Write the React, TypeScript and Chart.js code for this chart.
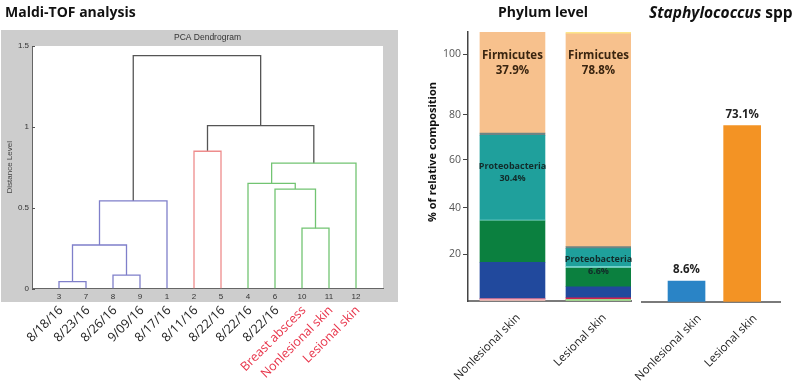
import React, { useEffect, useRef } from 'react';
import { Chart, registerables } from 'chart.js';

Chart.register(...registerables);

const FONT = '"Open Sans", "Noto Sans", sans-serif';
const MATLAB_FONT = '"Liberation Sans", Arial, sans-serif';

// ---------- Maldi-TOF dendrogram data ----------
const leafIds = ['3', '7', '8', '9', '1', '2', '5', '4', '6', '10', '11', '12'];
const leafNames = ['8/18/16', '8/23/16', '8/26/16', '9/09/16', '8/17/16', '8/11/16', '8/22/16', '8/22/16', '8/22/16', 'Breast abscess', 'Nonlesional skin', 'Lesional skin'];
const leafIsSample = [false, false, false, false, false, false, false, false, false, true, true, true];
// merges: nodes 0-11 are leaves (display order), node 12+k is merge k
const mergeLeft = [0, 2, 12, 14, 5, 9, 8, 7, 19, 16, 15];
const mergeRight = [1, 3, 13, 4, 6, 10, 17, 18, 11, 20, 21];
const mergeHeight = [0.042, 0.083, 0.269, 0.542, 0.849, 0.373, 0.615, 0.65, 0.775, 1.008, 1.441];
const mergeCluster = ['blue', 'blue', 'blue', 'blue', 'red', 'green', 'green', 'green', 'green', 'black', 'black'];
const dendroYTicks = [0, 0.5, 1, 1.5];
const dendroYLabels = ['0', '0.5', '1', '1.5'];

const clusterColors: Record<string, string> = {
  blue: '#7f7fca',
  red: '#ee8c8c',
  green: '#72c472',
  black: '#555555',
};

// ---------- Phylum level data (stack order bottom -> top) ----------
const phylumCategories = ['Nonlesional skin', 'Lesional skin'];
const phylumPositions = [1, 2];
const minorLightGreen = [0, 0.7];
const minorPink = [0.9, 0];
const minorRed = [0, 0.7];
const blueTaxon = [15.7, 4.7];
const greenTaxon = [17.7, 8.0];
const cyanTaxon = [0.4, 0.6];
const proteobacteria = [36.3, 7.7];
const grayTaxon = [0.9, 0.9];
const firmicutes = [43.4, 91.1];
const yellowTaxon = [0, 0.9];
const phylumYTickValues = [20, 40, 60.5, 79.7, 105.7];
const phylumYTickLabels = ['20', '40', '60', '80', '100'];
const barLabelBar = [0, 0, 1, 1];
const barLabelLines = [['Firmicutes', '37.9%'], ['Proteobacteria', '30.4%'], ['Firmicutes', '78.8%'], ['Proteobacteria', '6.6%']];
const barLabelValue = [101.7, 55.0, 101.7, 15.2];

// ---------- Staphylococcus data ----------
const staphCategories = ['Nonlesional skin', 'Lesional skin'];
const staphPositions = [1, 2];
const staphValues = [8.6, 73.1];
const staphLabels = ['8.6%', '73.1%'];

function dendroDatasets() {
  const nx: number[] = leafIds.map((_, i) => i + 1);
  const ny: number[] = leafIds.map(() => 0);
  const sets: any[] = [];
  for (let k = 0; k < mergeHeight.length; k++) {
    const a = mergeLeft[k];
    const b = mergeRight[k];
    const h = mergeHeight[k];
    sets.push({
      label: 'link ' + (k + 1),
      data: [
        { x: nx[a], y: ny[a] },
        { x: nx[a], y: h },
        { x: nx[b], y: h },
        { x: nx[b], y: ny[b] },
      ],
      showLine: true,
      borderColor: clusterColors[mergeCluster[k]],
      backgroundColor: clusterColors[mergeCluster[k]],
      borderWidth: 1.3,
      pointRadius: 0,
      tension: 0,
      fill: false,
    });
    nx.push((nx[a] + nx[b]) / 2);
    ny.push(h);
  }
  return sets;
}

const noSidePadding = (s: any) => {
  s.paddingLeft = 0;
  s.paddingRight = 0;
};

const dendroFrame = {
  id: 'dendroFrame',
  beforeDraw(chart: any) {
    const { ctx, chartArea, scales } = chart;
    ctx.save();
    ctx.fillStyle = '#cdcdcd';
    ctx.fillRect(1, 30, 397, scales.x.bottom - 30);
    ctx.fillStyle = '#ffffff';
    ctx.fillRect(chartArea.left, chartArea.top, chartArea.right - chartArea.left, chartArea.bottom - chartArea.top);
    ctx.fillStyle = '#333';
    ctx.font = '8.5px ' + MATLAB_FONT;
    ctx.textAlign = 'center';
    ctx.textBaseline = 'middle';
    ctx.fillText('PCA Dendrogram', (chartArea.left + chartArea.right) / 2, chartArea.top - 8);
    ctx.restore();
  },
  afterDraw(chart: any) {
    const { ctx, chartArea, scales } = chart;
    ctx.save();
    ctx.strokeStyle = '#555';
    ctx.lineWidth = 1;
    scales.y.ticks.forEach((t: any) => {
      const py = Math.round(scales.y.getPixelForValue(t.value)) + 0.5;
      ctx.beginPath();
      ctx.moveTo(chartArea.left, py);
      ctx.lineTo(chartArea.left + 3, py);
      ctx.stroke();
    });
    ctx.restore();
  },
};

const phylumDecor = {
  id: 'phylumDecor',
  afterDraw(chart: any) {
    const { ctx, scales } = chart;
    ctx.save();
    ctx.textAlign = 'center';
    ctx.textBaseline = 'middle';
    for (let i = 0; i < barLabelLines.length; i++) {
      const px = scales.x.getPixelForValue(phylumPositions[barLabelBar[i]]);
      const py = scales.y.getPixelForValue(barLabelValue[i]);
      const big = barLabelLines[i][0] === 'Firmicutes';
      const size = big ? 11.5 : 9;
      const gap = big ? 15 : 12;
      ctx.font = 'bold ' + size + 'px ' + FONT;
      ctx.fillStyle = big ? '#3a2510' : '#122b2a';
      ctx.fillText(barLabelLines[i][0], px, py - gap / 2);
      ctx.fillText(barLabelLines[i][1], px, py + gap / 2);
    }
    ctx.translate(33, 152);
    ctx.rotate(-Math.PI / 2);
    ctx.font = 'bold 11px ' + FONT;
    ctx.fillStyle = '#111';
    ctx.fillText('% of relative composition', 0, 0);
    ctx.restore();
  },
};

const staphDecor = {
  id: 'staphDecor',
  afterDatasetsDraw(chart: any) {
    const { ctx } = chart;
    const meta = chart.getDatasetMeta(0);
    ctx.save();
    ctx.textAlign = 'center';
    ctx.textBaseline = 'middle';
    ctx.font = 'bold 11.5px ' + FONT;
    ctx.fillStyle = '#222';
    meta.data.forEach((el: any, i: number) => {
      ctx.fillText(staphLabels[i], el.x, el.y - 11);
    });
    ctx.restore();
  },
};

export default function App() {
  const dRef = useRef<HTMLCanvasElement>(null);
  const pRef = useRef<HTMLCanvasElement>(null);
  const sRef = useRef<HTMLCanvasElement>(null);

  useEffect(() => {
    const charts: Chart[] = [];

    charts.push(
      new Chart(dRef.current as HTMLCanvasElement, {
        type: 'scatter',
        data: { datasets: dendroDatasets() },
        options: {
          animation: false,
          responsive: false,
          devicePixelRatio: 1,
          layout: { padding: { left: 0, top: 46, right: 17, bottom: 0 } },
          plugins: { legend: { display: false }, tooltip: { enabled: false } },
          scales: {
            x: {
              type: 'linear',
              min: 0,
              max: 13,
              weight: 0,
              afterBuildTicks: (s: any) => {
                s.ticks = leafIds.map((_, i) => ({ value: i + 1 }));
              },
              afterFit: (s: any) => {
                s.height = 13.5;
                noSidePadding(s);
              },
              ticks: {
                autoSkip: false,
                maxRotation: 0,
                padding: 3,
                font: { size: 8, family: MATLAB_FONT },
                color: '#333',
                callback: (_v: any, i: number) => leafIds[i],
              },
              grid: { drawOnChartArea: false, drawTicks: false },
              border: { color: '#666', width: 1 },
            },
            x2: {
              type: 'linear',
              position: 'bottom',
              min: 0,
              max: 13,
              weight: 1,
              afterBuildTicks: (s: any) => {
                s.ticks = leafNames.map((_, i) => ({ value: i + 1 }));
              },
              afterFit: (s: any) => {
                s.height = 87;
                noSidePadding(s);
              },
              ticks: {
                autoSkip: false,
                minRotation: 45,
                maxRotation: 45,
                padding: -7,
                labelOffset: 2,
                font: { size: 12.5, family: FONT },
                color: (c: any) => (leafIsSample[c.index] ? '#e8344a' : '#222'),
                callback: (_v: any, i: number) => leafNames[i],
              },
              grid: { display: false },
              border: { display: false },
            },
            y: {
              type: 'linear',
              min: 0,
              max: 1.5,
              afterBuildTicks: (s: any) => {
                s.ticks = dendroYTicks.map((v) => ({ value: v }));
              },
              afterFit: (s: any) => {
                s.width = 32;
              },
              ticks: {
                padding: 3,
                font: { size: 8, family: MATLAB_FONT },
                color: '#333',
                callback: (_v: any, i: number) => dendroYLabels[i],
              },
              title: {
                display: true,
                text: 'Distance Level',
                font: { size: 8, family: MATLAB_FONT },
                color: '#444',
                padding: { top: 5, bottom: 0 },
              },
              grid: { drawOnChartArea: false, drawTicks: false },
              border: { color: '#666', width: 1 },
            },
          },
        },
        plugins: [dendroFrame],
      } as any)
    );

    const phylumSets = [
      { label: 'Minor (light green)', data: minorLightGreen, backgroundColor: '#9fd28e' },
      { label: 'Minor (pink)', data: minorPink, backgroundColor: '#f3a8b6' },
      { label: 'Minor (red)', data: minorRed, backgroundColor: '#d2234f' },
      { label: 'Blue taxon', data: blueTaxon, backgroundColor: '#21499d' },
      { label: 'Green taxon', data: greenTaxon, backgroundColor: '#0b803f' },
      { label: 'Cyan taxon', data: cyanTaxon, backgroundColor: '#8ee0dc' },
      { label: 'Proteobacteria', data: proteobacteria, backgroundColor: '#1fa09c' },
      { label: 'Gray taxon', data: grayTaxon, backgroundColor: '#6e8484' },
      { label: 'Firmicutes', data: firmicutes, backgroundColor: '#f7c18d' },
      { label: 'Yellow taxon', data: yellowTaxon, backgroundColor: '#fde68a' },
    ].map((d) => ({
      label: d.label,
      data: d.data.map((v, i) => ({ x: phylumPositions[i], y: v })),
      backgroundColor: d.backgroundColor,
      borderWidth: 0,
      barThickness: 65,
    }));

    charts.push(
      new Chart(pRef.current as HTMLCanvasElement, {
        type: 'bar',
        data: { datasets: phylumSets },
        options: {
          animation: false,
          responsive: false,
          devicePixelRatio: 1,
          layout: { padding: { left: 0, top: 32, right: 9, bottom: 0 } },
          plugins: { legend: { display: false }, tooltip: { enabled: false } },
          scales: {
            x: {
              type: 'linear',
              stacked: true,
              offset: false,
              min: 0.483,
              max: 2.378,
              afterBuildTicks: (s: any) => {
                s.ticks = phylumPositions.map((v) => ({ value: v }));
              },
              afterFit: (s: any) => {
                s.height = 88;
                noSidePadding(s);
              },
              ticks: {
                autoSkip: false,
                minRotation: 45,
                maxRotation: 45,
                padding: 2,
                labelOffset: 6,
                font: { size: 11.5, family: FONT },
                color: '#222',
                callback: (_v: any, i: number) => phylumCategories[i],
              },
              grid: { display: false, offset: false },
              border: { color: '#7a7a7a', width: 2 },
            },
            y: {
              type: 'linear',
              stacked: true,
              min: 0,
              max: 115.2,
              afterBuildTicks: (s: any) => {
                s.ticks = phylumYTickValues.map((v) => ({ value: v }));
              },
              afterFit: (s: any) => {
                s.width = 68;
              },
              ticks: {
                padding: 2,
                font: { size: 10.5, family: FONT },
                color: '#555',
                callback: (_v: any, i: number) => phylumYTickLabels[i],
              },
              grid: { drawOnChartArea: false, tickLength: 5, color: '#444' },
              border: { color: '#444', width: 1.5 },
            },
          },
        },
        plugins: [phylumDecor],
      } as any)
    );

    charts.push(
      new Chart(sRef.current as HTMLCanvasElement, {
        type: 'bar',
        data: {
          datasets: [
            {
              label: 'Staphylococcus spp',
              data: staphValues.map((v, i) => ({ x: staphPositions[i], y: v })),
              backgroundColor: ['#2a84c6', '#f39324'],
              borderWidth: 0,
              barThickness: 37,
            },
          ],
        },
        options: {
          animation: false,
          responsive: false,
          devicePixelRatio: 1,
          layout: { padding: { left: 82, top: 32, right: 19, bottom: 0 } },
          plugins: { legend: { display: false }, tooltip: { enabled: false } },
          scales: {
            x: {
              type: 'linear',
              offset: false,
              min: 0.2,
              max: 2.68,
              afterBuildTicks: (s: any) => {
                s.ticks = staphPositions.map((v) => ({ value: v }));
              },
              afterFit: (s: any) => {
                s.height = 87.3;
                noSidePadding(s);
              },
              ticks: {
                autoSkip: false,
                minRotation: 45,
                maxRotation: 45,
                padding: 2,
                labelOffset: 13,
                font: { size: 11.5, family: FONT },
                color: '#222',
                callback: (_v: any, i: number) => staphCategories[i],
              },
              grid: { display: false, offset: false },
              border: { color: '#7a7a7a', width: 2 },
            },
            y: { display: false, min: 0, max: 112 },
          },
        },
        plugins: [staphDecor],
      } as any)
    );

    return () => charts.forEach((c) => c.destroy());
  }, []);

  const heading: React.CSSProperties = {
    position: 'absolute',
    top: 3,
    fontFamily: FONT,
    fontWeight: 700,
    fontSize: 14,
    lineHeight: '18px',
    color: '#111',
    whiteSpace: 'nowrap',
  };

  return (
    <div style={{ position: 'fixed', left: 0, top: 0, width: 799, height: 389, background: '#fff', overflow: 'hidden' }}>
      <canvas ref={dRef} width={400} height={389} style={{ position: 'absolute', left: 0, top: 0, width: 400, height: 389 }} />
      <canvas ref={pRef} width={240} height={389} style={{ position: 'absolute', left: 400, top: 0, width: 240, height: 389 }} />
      <canvas ref={sRef} width={239} height={389} style={{ position: 'absolute', left: 560, top: 0, width: 239, height: 389 }} />
      <div style={{ ...heading, left: 5 }}>Maldi-TOF analysis</div>
      <div style={{ ...heading, left: 443, width: 200, textAlign: 'center' }}>Phylum level</div>
      <div style={{ ...heading, left: 649, fontSize: 15.5 }}>
        <span style={{ fontStyle: 'italic' }}>Staphylococcus</span> spp
      </div>
    </div>
  );
}
